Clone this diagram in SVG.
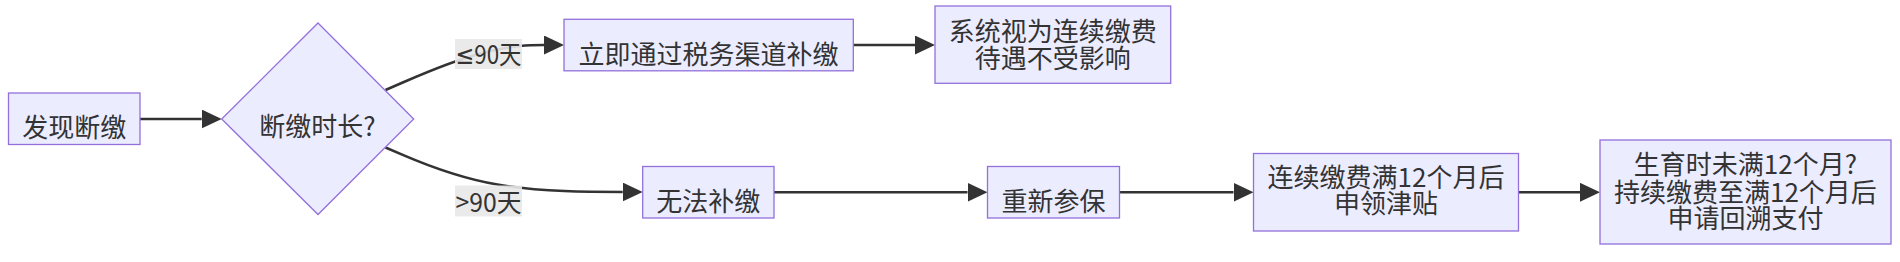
<svg xmlns="http://www.w3.org/2000/svg" width="1900" height="262" viewBox="0 0 1900 262">
<style>
.node rect, .node polygon { fill: #ECECFF; stroke: #9370DB; stroke-width: 1.3; }
.node text, .lbl text { font-family: "Noto Sans CJK SC", "Noto Sans", "Liberation Sans", sans-serif; font-size: 26px; fill: #333333; text-anchor: middle; }
.lbl .sym { font-family: "DejaVu Sans", sans-serif; }
.edge { fill: none; stroke: #333333; stroke-width: 2.6; marker-end: url(#arrow); }
.lbl rect { fill: #e8e8e8; opacity: 0.9; }
</style>
<defs>
<marker id="arrow" markerUnits="userSpaceOnUse" viewBox="0 0 20 19" refX="0" refY="9.5" markerWidth="20" markerHeight="19" orient="auto">
<path d="M0,0 L20,9.5 L0,19 z" fill="#333333"/>
</marker>
</defs>
<rect x="0" y="0" width="1900" height="262" fill="#ffffff"/>
<g id="connectors">
<path class="edge" d="M140,119 L201.7,119"/>
<path class="edge" d="M385.5,90 L402.75,82.5 C420,75 454.5,60 484.25,52.5 C514,45 530,45 544,45"/>
<path class="edge" d="M385.5,147.5 L402.75,154.9 C420,162.33 454.5,177.17 497.37,184.58 C540.23,192 591.47,192 622.7,192"/>
<path class="edge" d="M853.3,45 L915,45"/>
<path class="edge" d="M774,192.3 L967.5,192.3"/>
<path class="edge" d="M1119.6,192.3 L1233.5,192.3"/>
<path class="edge" d="M1518.4,192.3 L1580,192.3"/>
<g class="lbl" id="label-le90">
<rect x="455" y="39" width="67" height="30"/>
<text x="488.5" y="64" textLength="66" lengthAdjust="spacingAndGlyphs"><tspan class="sym">≤</tspan>90天</text>
</g>
<g class="lbl" id="label-gt90">
<rect x="455" y="185.5" width="67" height="31"/>
<text x="488.5" y="211.5" textLength="66" lengthAdjust="spacingAndGlyphs">&gt;90天</text>
</g>
</g>
<g class="node" id="A">
<rect x="8.5" y="93" width="131.5" height="51.5"/>
<text x="74.2" y="137">发现断缴</text>
</g>
<g class="node" id="B">
<polygon points="318,23 413.7,119 318,214.5 221.7,119"/>
<text x="317.5" y="136">断缴时长?</text>
</g>
<g class="node" id="C">
<rect x="564" y="19.3" width="289.3" height="51.5"/>
<text x="708.6" y="64">立即通过税务渠道补缴</text>
</g>
<g class="node" id="E">
<rect x="935" y="6" width="235.7" height="77.3"/>
<text x="1052.8" y="41">系统视为连续缴费</text>
<text x="1052.8" y="67.5">待遇不受影响</text>
</g>
<g class="node" id="D">
<rect x="642.7" y="166.5" width="131.3" height="51.5"/>
<text x="708.3" y="211">无法补缴</text>
</g>
<g class="node" id="F">
<rect x="987.5" y="166.5" width="132" height="51.5"/>
<text x="1053.5" y="211">重新参保</text>
</g>
<g class="node" id="G">
<rect x="1253.5" y="153.5" width="265" height="77.5"/>
<text x="1386" y="186.5">连续缴费满12个月后</text>
<text x="1386" y="213.3">申领津贴</text>
</g>
<g class="node" id="H">
<rect x="1600" y="140" width="291" height="104"/>
<text x="1745.4" y="174">生育时未满12个月?</text>
<text x="1745.4" y="201.5">持续缴费至满12个月后</text>
<text x="1745.4" y="228">申请回溯支付</text>
</g>
</svg>
